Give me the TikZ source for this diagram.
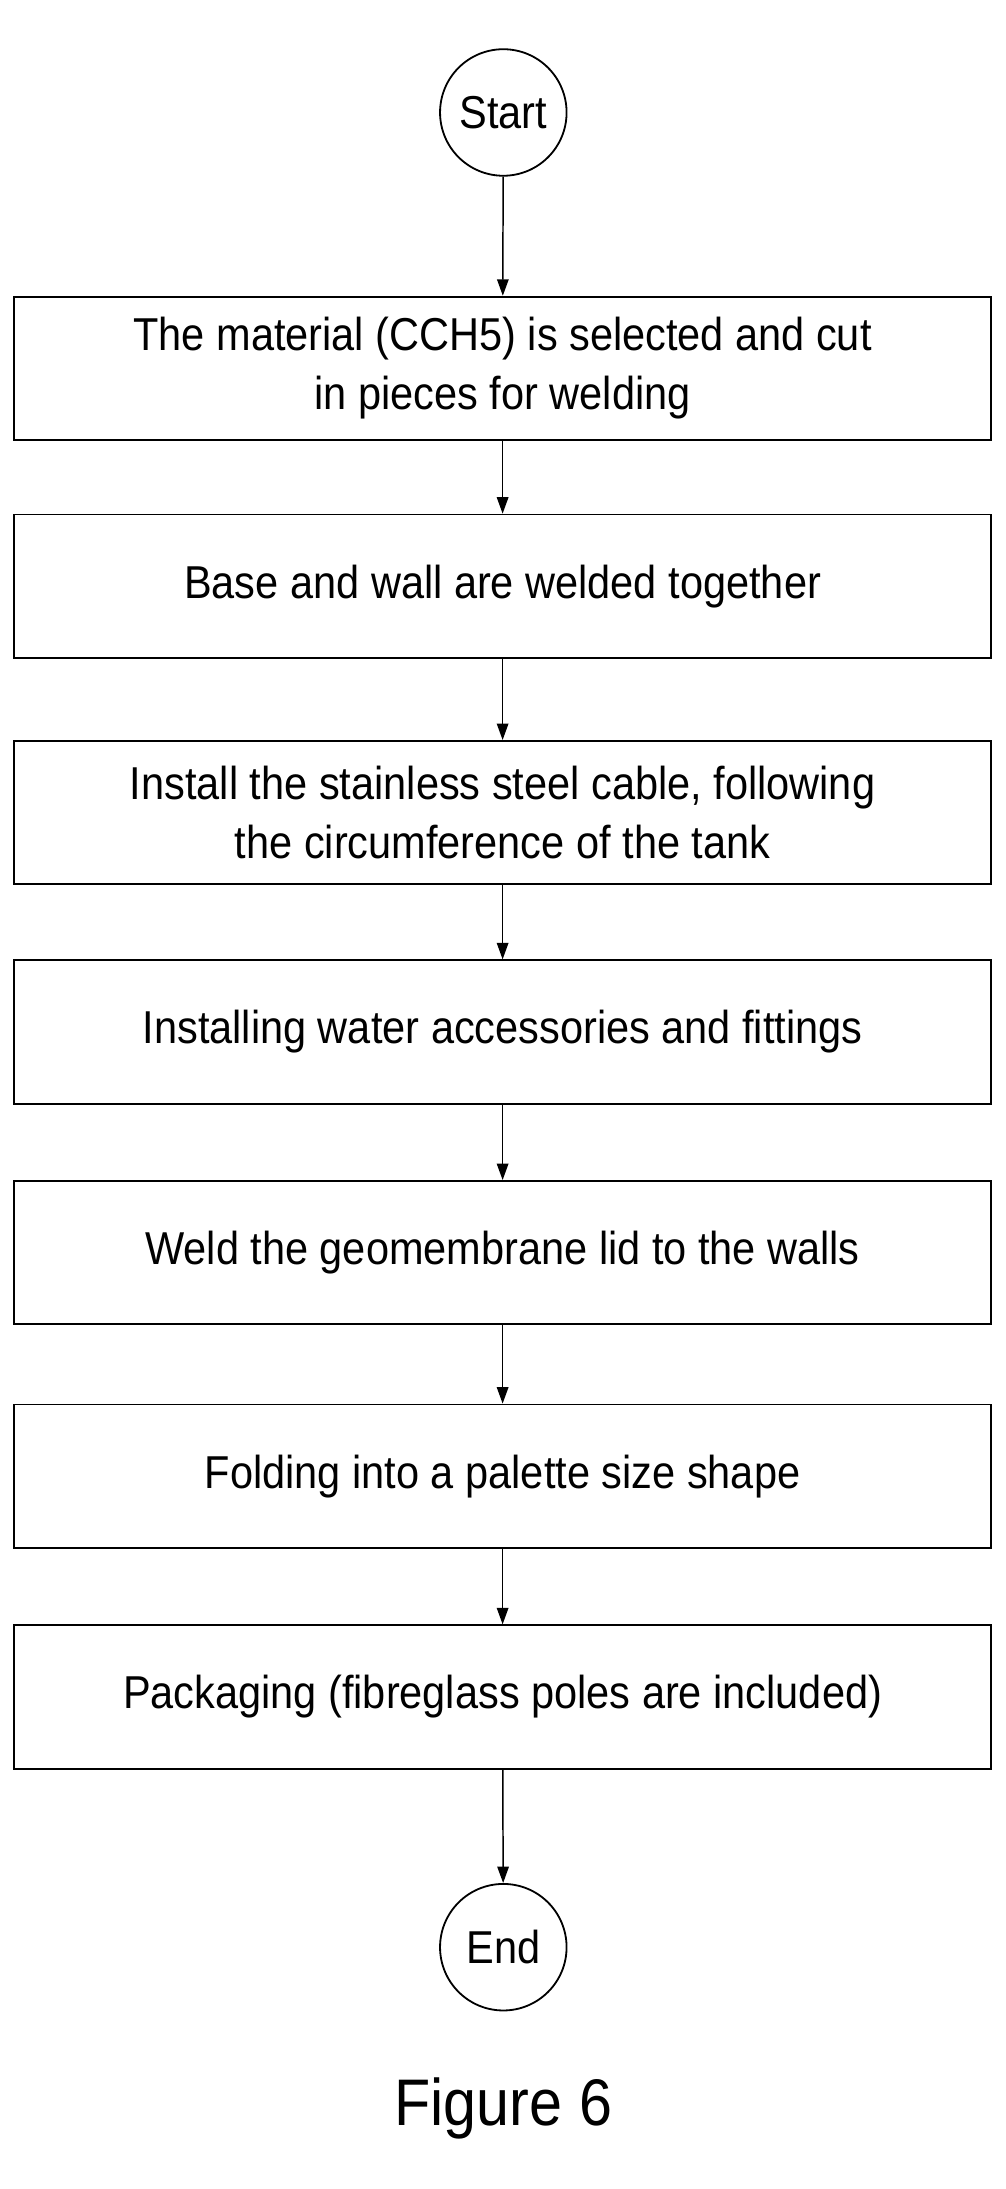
\documentclass[tikz,border=0pt]{standalone}
\usepackage{fontspec}
\setmainfont{Liberation Sans}[FakeStretch=0.9]
\usetikzlibrary{arrows.meta}
\begin{document}
\begin{tikzpicture}[x=0.03cm,y=-0.03cm,
  every node/.style={font=\fontsize{28}{36}\selectfont, align=center},
  box/.style={draw, line width=1.1pt, minimum width=695*0.03cm, minimum height=102*0.03cm, inner sep=0pt},
  circ/.style={draw, circle, line width=1.1pt, minimum size=90*0.03cm, inner sep=0pt},
  arr/.style={-{Triangle[length=10pt,width=7pt]}, line width=0.9pt}]
\useasboundingbox (0,0) rectangle (715,1557);
\node[circ] (s) at (358,80) {Start};
\node[box] (b1) at (357.5,262) {The material (CCH5) is selected and cut\\in pieces for welding};
\node[box] (b2) at (357.5,417) {Base and wall are welded together};
\node[box] (b3) at (357.5,578) {Install the stainless steel cable, following\\the circumference of the tank};
\node[box] (b4) at (357.5,734) {Installing water accessories and fittings};
\node[box] (b5) at (357.5,891) {Weld the geomembrane lid to the walls};
\node[box] (b6) at (357.5,1050) {Folding into a palette size shape};
\node[box] (b7) at (357.5,1207) {Packaging (fibreglass poles are included)};
\node[circ] (e) at (358,1385) {End};
\node[font=\fontsize{40}{44}\selectfont] (f) at (358,1500) {Figure 6};
\foreach \a/\b in {s/b1,b1/b2,b2/b3,b3/b4,b4/b5,b5/b6,b6/b7,b7/e}
  \draw[arr] (\a) -- (\b);
\end{tikzpicture}
\end{document}
